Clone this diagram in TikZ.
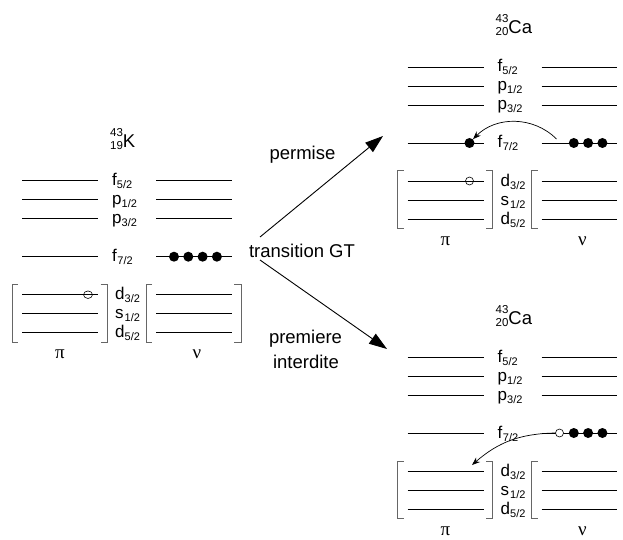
\documentclass[tikz,border=0pt]{standalone}
\usepackage{fontspec}
\setmainfont{Liberation Sans}
\newfontfamily\grk{Liberation Serif}
\usetikzlibrary{arrows.meta,shapes.geometric}

\tikzset{
 lev/.style={draw=black, line width=0.8pt},
 brk/.style={draw=black!60, line width=1pt},
 lab/.style={anchor=base west, inner sep=0pt, font=\fontsize{17}{17}\selectfont},
 elec/.style={circle, fill=black, minimum size=10pt, inner sep=0pt},
 hole/.style={circle, draw=black, fill=white, line width=0.6pt, minimum size=8pt, inner sep=0pt},
 holeline/.style={circle, draw=black, line width=0.6pt, minimum size=8pt, inner sep=0pt},
 holeK/.style={ellipse, draw=black, line width=0.6pt, minimum width=9pt, minimum height=7.5pt, inner sep=0pt},
 big/.style={-{Triangle[length=18pt,width=12pt]}, line width=0.9pt},
 hop/.style={-{Stealth[length=8pt,width=6pt]}, line width=0.7pt},
 txt/.style={anchor=base, font=\fontsize{18.5}{22}\selectfont, inner sep=0pt},
 ttl/.style={anchor=base west, inner sep=0pt, font=\fontsize{18.5}{18.5}\selectfont},
 greek/.style={font=\grk\fontsize{19}{19}\selectfont, inner sep=0pt}
}
\newcommand\lsub[1]{\raisebox{-3pt}{\fontsize{11}{11}\selectfont #1}}
\newcommand\nuc[3]{\rlap{\raisebox{11pt}{\fontsize{11.5}{11.5}\selectfont #1}}\raisebox{-2pt}{\fontsize{11.5}{11.5}\selectfont #2}#3}

% #1 x offset, #2 y offset (f5/2 level), #3 nu right bracket x, #4 name prefix, #5 title
\newcommand\shell[5]{%
\begin{scope}[shift={(#1,#2)}]
 \foreach \yy in {0,19,38,76,114,133,152}{
   \draw[lev] (22,\yy) -- (98,\yy);
   \draw[lev] (156,\yy) -- (231.5,\yy);}
 \draw[brk] (18,104) -- (12,104) -- (12,161.5) -- (18,161.5);
 \draw[brk] (100.5,104) -- (107,104) -- (107,161.5) -- (100.5,161.5);
 \draw[brk] (152,104) -- (146,104) -- (146,161.5) -- (152,161.5);
 \draw[brk] (#3-7,104) -- (#3,104) -- (#3,161.5) -- (#3-7,161.5);
 \node[lab] (#4fa) at (112,5) {f\lsub{5/2}};
 \node[lab] (#4pa) at (112,24) {p\lsub{1/2}};
 \node[lab] (#4pb) at (112,43) {p\lsub{3/2}};
 \node[lab] (#4fb) at (112,81) {f\kern0.5pt\lsub{7/2}};
 \node[lab] (#4da) at (115,119) {d\lsub{3/2}};
 \node[lab] (#4sa) at (115,138) {s\kern1pt\lsub{1/2}};
 \node[lab] (#4db) at (115,157) {d\lsub{5/2}};
 \node[greek] (#4pi) at (60,174) {π};
 \node[greek] (#4nu) at (197,174) {ν};
 \node[ttl] (#4t) at (110,-33) {#5};
\end{scope}}

\begin{document}
\begin{tikzpicture}[x=1pt,y=-1pt]
\useasboundingbox (0,0) rectangle (623,540);

\shell{0}{180.7}{241}{K}{\nuc{43}{19}{K}}
\shell{385.5}{67}{621}{A}{\nuc{43}{20}{Ca}}
\shell{385.5}{357}{621}{B}{\nuc{43}{20}{Ca}}

% K electrons
\node[holeK] (Kh) at (88,294.7) {};
\node[elec] (Kn1) at (174,256.7) {};
\node[elec] (Kn2) at (188.3,256.7) {};
\node[elec] (Kn3) at (202.6,256.7) {};
\node[elec] (Kn4) at (216.9,256.7) {};

% transition texts and arrows
\node[txt] (perm) at (302.5,160) {permise};
\node[txt] (gt) at (302,257) {transition GT};
\node[txt] (prem) at (305.5,343) {premiere};
\node[txt] (inter) at (306,368) {interdite};
\coordinate (s1) at (260,237);
\coordinate (e1) at (383,136);
\coordinate (s2) at (260,260);
\coordinate (e2) at (387,349);
\draw[big] (s1) -- (e1);
\draw[big] (s2) -- (e2);

% top-right electrons
\node[holeline] (Ah) at (469.5,181) {};
\node[elec] (Ap) at (469.5,143) {};
\node[elec] (An2) at (573.8,143) {};
\node[elec] (An3) at (588.1,143) {};
\node[elec] (An4) at (602.4,143) {};
\coordinate (As) at (556.5,139);
\draw[hop] (As) to[bend right=45] (Ap);

% bottom-right electrons
\node[hole] (Bh) at (559.5,433) {};
\node[elec] (Bn2) at (573.8,433) {};
\node[elec] (Bn3) at (588.1,433) {};
\node[elec] (Bn4) at (602.4,433) {};
\coordinate (Be) at (472,465);
\draw[hop] (Bh) to[bend right=20] (Be);
\end{tikzpicture}
\end{document}
